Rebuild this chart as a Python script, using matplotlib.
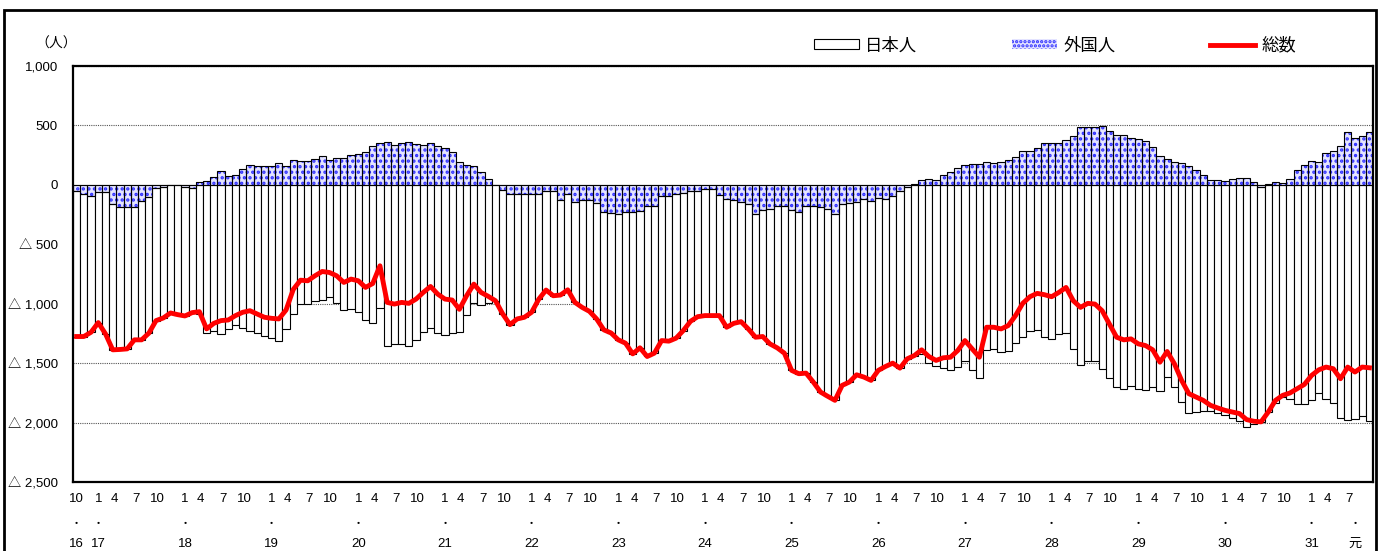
import numpy as np
import matplotlib.pyplot as plt
from matplotlib.patches import Rectangle, Patch
from matplotlib.lines import Line2D

plt.rcParams['font.family'] = ['Liberation Sans', 'Noto Sans CJK JP', 'DejaVu Sans']
plt.rcParams['hatch.linewidth'] = 1.6

# monthly net migration, Oct 2004 (H16.10) .. Sep 2019 (R1.9)
foreign = [
    -55, -80, -92, -62, -62, -165, -186, -186, -190, -137, -98, -26,
    -20, 3, -4, -14, -30, 22, 36, 67, 115, 73, 80, 136,
    170, 158, 158, 162, 184, 162, 209, 198, 198, 214, 242, 210,
    228, 228, 254, 260, 274, 330, 353, 364, 336, 353, 357, 347,
    333, 353, 329, 306, 279, 195, 165, 162, 106, 53, -5, -47,
    -73, -81, -75, -81, -81, -53, -53, -131, -75, -145, -131, -131,
    -156, -229, -235, -249, -229, -229, -221, -179, -179, -95, -95, -73,
    -67, -53, -53, -39, -39, -87, -115, -131, -142, -165, -243, -212,
    -201, -182, -182, -209, -229, -182, -179, -184, -207, -249, -165, -151,
    -142, -123, -137, -109, -115, -95, -53, -20, 4, 39, 53, 45,
    87, 109, 142, 170, 176, 179, 193, 184, 193, 212, 232, 282,
    288, 310, 352, 352, 352, 380, 408, 486, 489, 483, 494, 455,
    422, 416, 394, 383, 371, 316, 246, 218, 193, 184, 162, 128,
    87, 45, 45, 36, 53, 59, 59, 22, -14, 4, 22, 14,
    50, 128, 165, 204, 193, 265, 288, 327, 444, 394, 408, 444,
]
japanese = [
    -1221, -1196, -1148, -1097, -1192, -1223, -1199, -1194, -1114, -1167, -1150, -1116,
    -1100, -1081, -1088, -1089, -1045, -1089, -1248, -1232, -1257, -1210, -1180, -1208,
    -1229, -1244, -1272, -1285, -1312, -1215, -1089, -1000, -1005, -979, -971, -947,
    -993, -1049, -1047, -1067, -1137, -1160, -1034, -1353, -1339, -1342, -1354, -1308,
    -1238, -1208, -1248, -1267, -1248, -1242, -1098, -997, -1011, -991, -970, -1039,
    -1103, -1047, -1039, -991, -880, -832, -880, -796, -808, -844, -900, -933,
    -972, -991, -1011, -1055, -1103, -1193, -1150, -1265, -1237, -1215, -1220, -1217,
    -1159, -1095, -1056, -1061, -1061, -1013, -1083, -1034, -1009, -1047, -1039, -1064,
    -1137, -1189, -1234, -1352, -1360, -1402, -1480, -1559, -1572, -1564, -1522, -1508,
    -1456, -1494, -1508, -1452, -1413, -1405, -1489, -1444, -1440, -1427, -1497, -1522,
    -1542, -1559, -1536, -1480, -1556, -1629, -1391, -1382, -1405, -1396, -1332, -1279,
    -1229, -1223, -1276, -1293, -1257, -1243, -1383, -1517, -1486, -1486, -1553, -1625,
    -1704, -1720, -1690, -1721, -1723, -1704, -1738, -1620, -1698, -1829, -1919, -1913,
    -1900, -1900, -1922, -1933, -1964, -1983, -2034, -2011, -1980, -1915, -1835, -1785,
    -1801, -1843, -1844, -1807, -1749, -1798, -1835, -1958, -1977, -1969, -1941, -1983,
]
month_labels = ['10'] + ['1', '4', '7', '10'] * 14 + ['1', '4', '7']
year_labels = ['16', '17', '18', '19', '20', '21', '22', '23', '24', '25',
               '26', '27', '28', '29', '30', '31', '元']
year_idx = [0, 3, 15, 27, 39, 51, 63, 75, 87, 99, 111, 123, 135, 147, 159, 171, 177]
yticks = [-2500, -2000, -1500, -1000, -500, 0, 500, 1000]
ytick_labels = ['△ 2,500', '△ 2,000', '△ 1,500', '△ 1,000', '△ 500', '0', '500', '1,000']

foreign = np.array(foreign)
japanese = np.array(japanese)
total = japanese + foreign
x = np.arange(len(foreign))

W, H = 1381, 551
fig = plt.figure(figsize=(W / 100, H / 100), dpi=100)
ax = fig.add_axes([73 / W, (H - 482) / H, 1300 / W, 416 / H])

for y in yticks:
    if y != 0:
        ax.axhline(y, color='#555555', lw=0.8, ls=(0, (1, 1)), zorder=0)

hatch_col = '#3030ff'
face_col = '#e4e4ff'
ax.bar(x, foreign, width=1.0, color=face_col, edgecolor=hatch_col, hatch='...',
       linewidth=0, zorder=2)
ax.bar(x, foreign, width=1.0, color='none', edgecolor='black', linewidth=0.8, zorder=3)
ax.bar(x, japanese, width=1.0, bottom=np.minimum(foreign, 0), color='white',
       edgecolor='black', linewidth=0.8, zorder=2)
ax.axhline(0, color='#444444', lw=0.8, zorder=1)
ax.plot(x, total, color='#ff0000', lw=3.5, zorder=5, solid_joinstyle='round')

ax.set_xlim(-0.5, len(x) - 0.5)
ax.set_ylim(-2500, 1000)
ax.set_yticks(yticks)
ax.set_yticklabels(ytick_labels, fontsize=9.5)
ax.tick_params(axis='y', length=0, pad=11)
ax.set_xticks([])
for s in ax.spines.values():
    s.set_linewidth(1.6)

# x axis labels: month / dot / year
tr = ax.get_xaxis_transform()
for k, lab in enumerate(month_labels):
    i = 3 * k
    shift = 0 if lab == '1' or k == 0 else -0.8
    ax.text(i + shift, -0.04, lab, transform=tr, ha='center', va='center',
            fontsize=9.5)
for i, lab in zip(year_idx, year_labels):
    ax.text(i, -0.1, '・', transform=tr, ha='center', va='center', fontsize=8)
    ax.text(i, -0.148, lab, transform=tr, ha='center', va='center', fontsize=9.5)

fig.text(35 / W, 1 - 44 / H, '（人）', fontsize=10, ha='left', va='center')

handles = [
    Patch(facecolor='white', edgecolor='black', linewidth=0.8),
    Patch(facecolor=face_col, edgecolor=hatch_col, hatch='....', linewidth=0),
    Line2D([0], [0], color='#ff0000', lw=3.5),
]
fig.legend(handles, ['日本人', '外国人', '総数'], ncol=3, frameon=False,
           loc='center left', bbox_to_anchor=(814 / W, 1 - 45 / H),
           fontsize=12.5, handlelength=2.6, handleheight=0.5, handletextpad=0.35,
           columnspacing=5.45, borderpad=0, borderaxespad=0)

fig.patches.append(Rectangle((4 / W, -0.05), 1372 / W, 1.05 - 10 / H,
                             transform=fig.transFigure, fill=False,
                             edgecolor='black', linewidth=2.0))

fig.savefig('out.png', dpi=100)
